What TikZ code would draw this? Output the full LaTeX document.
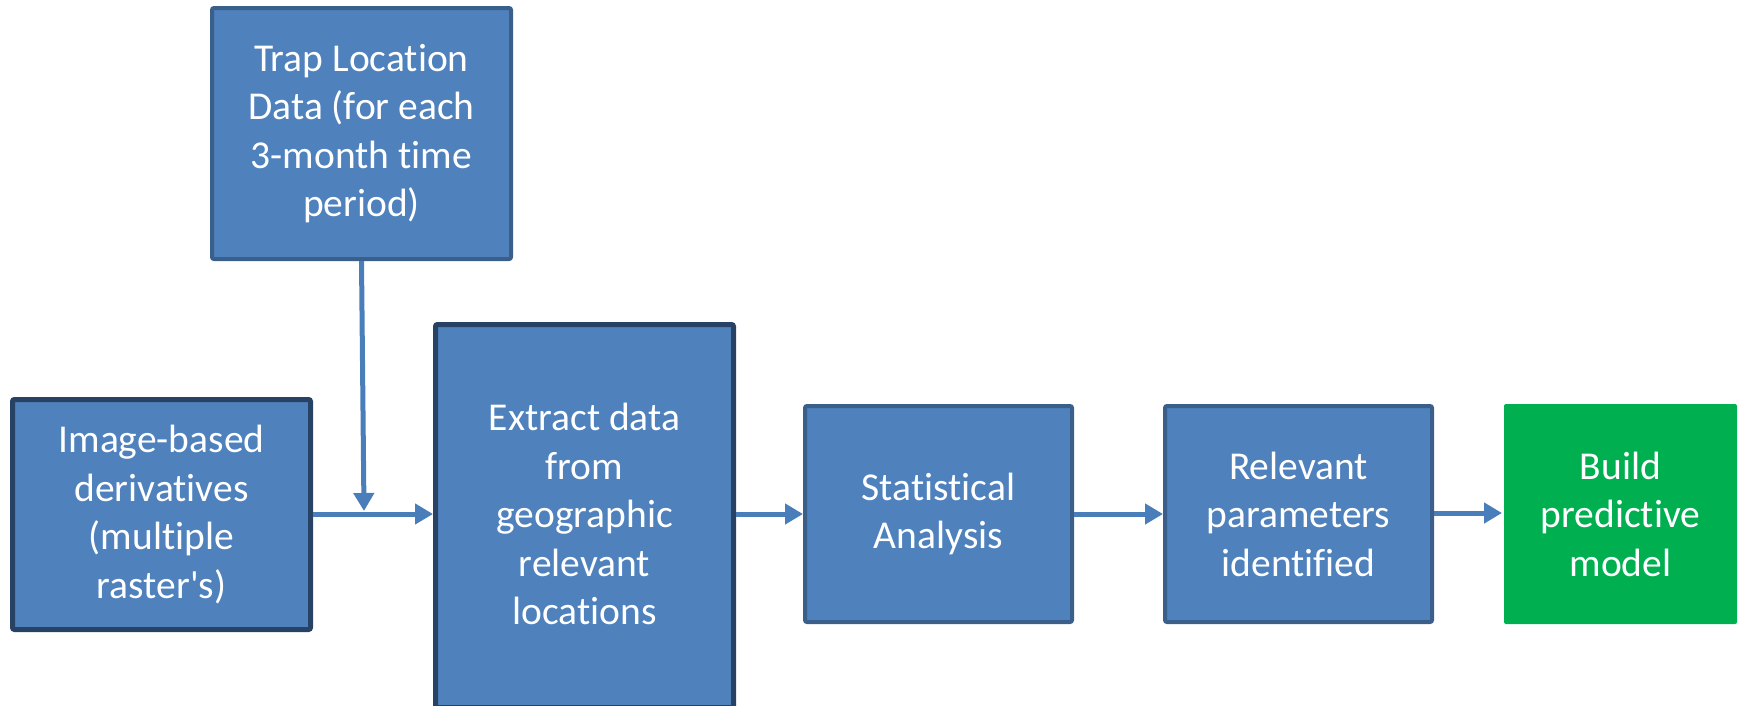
\documentclass[tikz,border=0pt]{standalone}
\usepackage{fontspec}
\setmainfont[Ligatures=NoCommon]{Carlito}
\usetikzlibrary{arrows.meta}
\definecolor{boxfill}{HTML}{4F81BD}
\definecolor{boxline}{HTML}{3A5F8B}
\definecolor{boxdark}{HTML}{284266}
\definecolor{arrowcol}{HTML}{4A7EBB}
\definecolor{greenfill}{HTML}{00B050}
\begin{document}
\begin{tikzpicture}[x=1pt,y=-1pt,
  box/.style={rectangle, rounded corners=2pt, fill=boxfill, draw=boxline, line width=4pt,
    text=white, align=center, font=\fontsize{39.5}{48.5}\selectfont, inner sep=0pt},
  darkbox/.style={box, draw=boxdark, line width=5pt},
  greenbox/.style={box, fill=greenfill, draw=none},
  txt/.style={text=white, align=center, font=\fontsize{39.5}{48.5}\selectfont, inner sep=0pt},
  arr/.style={draw=arrowcol, line width=5pt, -{Triangle[length=18pt,width=20pt]}}]
\useasboundingbox (0,0) rectangle (1741,705);
\node[box, minimum width=299pt, minimum height=251pt] (trap) at (361.5,133.5)
  {Trap Location\\Data (for each\\3-month time\\period)};
\node[darkbox, minimum width=298pt, minimum height=230pt] (image) at (161.5,514.5)
  {Image-based\\derivatives\\(multiple\\raster\textquotesingle s)};
\node[darkbox, minimum width=298pt, minimum height=383pt] (extract) at (584.5,516) {};
\node[txt] (extracttext) at (584.5,514) {Extract data\\from\\geographic\\relevant\\locations};
\node[box, minimum width=267pt, minimum height=216pt] (stat) at (938.5,514)
  {Statistical\\Analysis};
\node[box, minimum width=267pt, minimum height=216pt] (rel) at (1298.5,514)
  {Relevant\\parameters\\identified};
\node[greenbox, minimum width=233pt, minimum height=220pt] (build) at (1620.5,514)
  {Build\\predictive\\model};
\coordinate (join) at (364,511);
\draw[arr] (trap.south) -- (join);
\draw[arr] (image.east |- 0,514) -- (extract.west |- 0,514);
\draw[arr] (extract.east |- 0,514) -- (stat.west);
\draw[arr] (stat.east) -- (rel.west);
\draw[arr] (rel.east |- 0,513) -- (build.west |- 0,513);
\end{tikzpicture}
\end{document}
